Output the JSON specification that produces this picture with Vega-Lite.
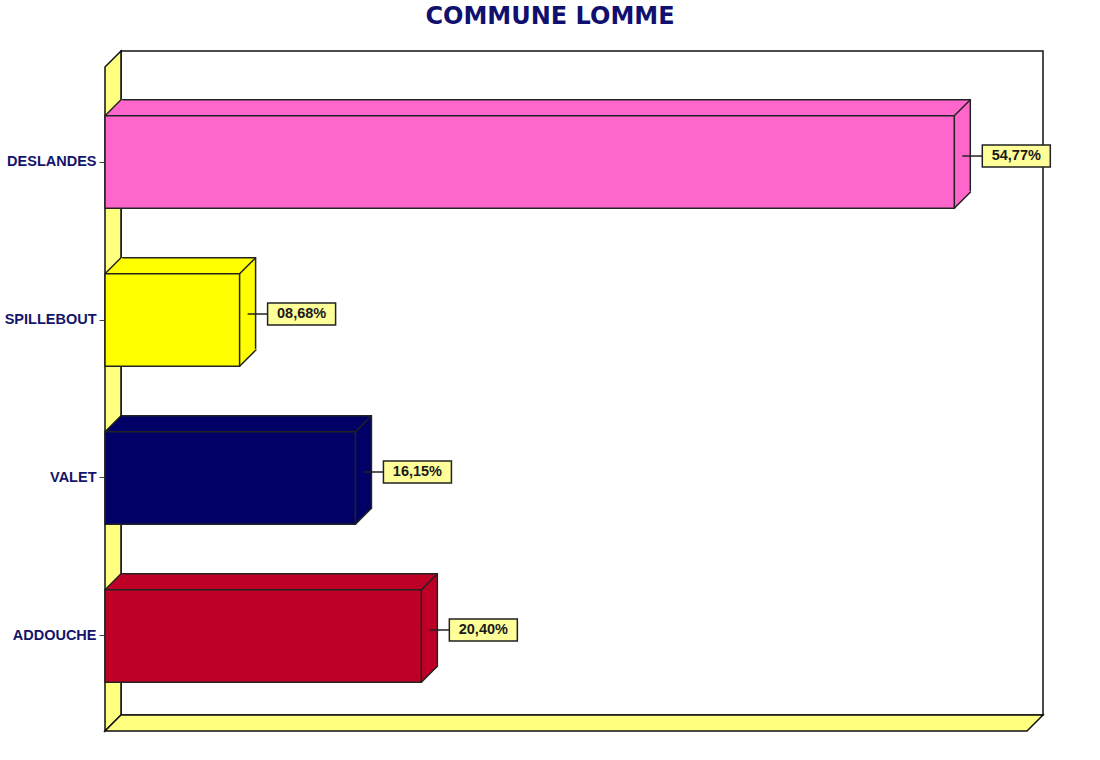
{
  "$schema": "https://vega.github.io/schema/vega-lite/v6.json",
  "description": "COMMUNE LOMME - 3D horizontal bars",
  "width": 938,
  "height": 680,
  "autosize": "none",
  "padding": {"left": 105, "top": 51, "right": 57, "bottom": 29},
  "background": "white",
  "title": {
    "text": "COMMUNE LOMME",
    "font": "DejaVu Sans",
    "fontSize": 24,
    "fontWeight": "bold",
    "color": "#10106e",
    "anchor": "middle",
    "frame": "group",
    "dx": -24,
    "baseline": "alphabetic",
    "offset": 0
  },
  "data": {
    "values": [
      {"candidat": "DESLANDES", "pct": 54.77, "label": "54,77%"},
      {"candidat": "SPILLEBOUT", "pct": 8.68, "label": "08,68%"},
      {"candidat": "VALET", "pct": 16.15, "label": "16,15%"},
      {"candidat": "ADDOUCHE", "pct": 20.40, "label": "20,40%"}
    ]
  },
  "encoding": {
    "y": {
      "field": "candidat",
      "type": "nominal",
      "sort": null,
      "scale": {"range": [16, 680], "paddingInner": 0.415, "paddingOuter": 0.309},
      "axis": {
        "title": null,
        "domain": false,
        "grid": false,
        "labelFont": "Liberation Sans",
        "labelFontSize": 14.5,
        "labelFontWeight": "bold",
        "labelColor": "#14146b",
        "labelPadding": 3,
        "tickSize": 6,
        "tickColor": "#444",
        "tickWidth": 1
      }
    }
  },
  "layer": [
    {
      "data": {"values": [{}]},
      "mark": {"type": "point", "shape": "M16,0 L938,0 L938,664 L16,664 Z", "size": 4, "filled": true, "opacity": 1, "fill": "white", "stroke": "#111", "strokeWidth": 1.5},
      "encoding": {"x": {"value": 0}, "y": {"value": 0}}
    },
    {
      "data": {"values": [{}]},
      "mark": {"type": "point", "shape": "M0,16 L16,0 L16,664 L0,680 Z", "size": 4, "filled": true, "opacity": 1, "fill": "#ffff80", "stroke": "#111", "strokeWidth": 1.5},
      "encoding": {"x": {"value": 0}, "y": {"value": 0}}
    },
    {
      "data": {"values": [{}]},
      "mark": {"type": "point", "shape": "M0,680 L16,664 L938,664 L922,680 Z", "size": 4, "filled": true, "opacity": 1, "fill": "#ffff80", "stroke": "#111", "strokeWidth": 1.5},
      "encoding": {"x": {"value": 0}, "y": {"value": 0}}
    },
    {
      "mark": {"type": "bar", "xOffset": 16, "x2Offset": 16, "yOffset": -16, "y2Offset": -16, "stroke": "#222", "strokeWidth": 1.5},
      "encoding": {
        "x": {"field": "pct", "type": "quantitative", "axis": null, "scale": {"domain": [0, 60.49], "nice": false, "zero": true}},
        "color": {
          "field": "candidat",
          "type": "nominal",
          "scale": {"domain": ["DESLANDES", "SPILLEBOUT", "VALET", "ADDOUCHE"], "range": ["#ff66cc", "#ffff00", "#000066", "#be0026"]},
          "legend": null
        }
      }
    },
    {
      "mark": {"type": "point", "shape": "M0,0 L16,-16 L17.5,-16 L17.5,0 Z", "size": 4, "filled": true, "opacity": 1, "strokeWidth": 0},
      "encoding": {
        "x": {"datum": 0, "type": "quantitative"},
        "y": {"field": "candidat", "type": "nominal", "sort": null, "bandPosition": 0},
        "color": {"field": "candidat", "type": "nominal"}
      }
    },
    {
      "mark": {"type": "point", "shape": "M0,0 L16,-16 L16,-17.5 L0,-17.5 Z", "size": 4, "filled": true, "opacity": 1, "strokeWidth": 0},
      "encoding": {
        "x": {"field": "pct", "type": "quantitative"},
        "y": {"field": "candidat", "type": "nominal", "sort": null, "bandPosition": 1},
        "color": {"field": "candidat", "type": "nominal"}
      }
    },
    {
      "mark": {"type": "bar", "stroke": "#222", "strokeWidth": 1.5},
      "encoding": {
        "x": {"field": "pct", "type": "quantitative"},
        "color": {"field": "candidat", "type": "nominal"}
      }
    },
    {
      "mark": {"type": "point", "shape": "M0,0 L16,-16", "size": 4, "filled": false, "opacity": 1, "stroke": "#222", "strokeWidth": 1.5},
      "encoding": {
        "x": {"datum": 0, "type": "quantitative"},
        "y": {"field": "candidat", "type": "nominal", "sort": null, "bandPosition": 0}
      }
    },
    {
      "mark": {"type": "point", "shape": "M0,0 L16,-16", "size": 4, "filled": false, "opacity": 1, "stroke": "#222", "strokeWidth": 1.5},
      "encoding": {
        "x": {"field": "pct", "type": "quantitative"},
        "y": {"field": "candidat", "type": "nominal", "sort": null, "bandPosition": 0}
      }
    },
    {
      "mark": {"type": "point", "shape": "M0,0 L16,-16", "size": 4, "filled": false, "opacity": 1, "stroke": "#222", "strokeWidth": 1.5},
      "encoding": {
        "x": {"field": "pct", "type": "quantitative"},
        "y": {"field": "candidat", "type": "nominal", "sort": null, "bandPosition": 1}
      }
    },
    {
      "mark": {"type": "rule", "xOffset": 8, "x2Offset": 28, "yOffset": -6, "y2Offset": -6, "color": "#222", "strokeWidth": 1.5},
      "encoding": {
        "x": {"field": "pct", "type": "quantitative"},
        "x2": {"field": "pct"}
      }
    },
    {
      "mark": {"type": "bar", "xOffset": 28, "x2Offset": 96, "yOffset": -6, "fill": "#ffff99", "stroke": "#222", "strokeWidth": 1.5},
      "encoding": {
        "x": {"field": "pct", "type": "quantitative"},
        "x2": {"field": "pct"},
        "size": {"value": 22}
      }
    },
    {
      "mark": {"type": "text", "xOffset": 62, "yOffset": -6, "align": "center", "baseline": "middle", "font": "Liberation Sans", "fontSize": 14.5, "fontWeight": "bold", "color": "#1a1a1a"},
      "encoding": {
        "x": {"field": "pct", "type": "quantitative"},
        "text": {"field": "label"}
      }
    }
  ],
  "config": {
    "view": {"stroke": null}
  }
}
